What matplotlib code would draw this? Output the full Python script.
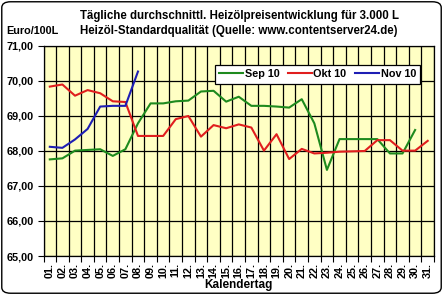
import matplotlib
matplotlib.use('Agg')
import matplotlib.pyplot as plt
import numpy as np
from matplotlib.patches import FancyBboxPatch

plt.rcParams['font.family'] = ['Liberation Sans', 'DejaVu Sans']
plt.rcParams['font.weight'] = 'bold'

# values (Euro/100L)
days = list(range(1, 32))
day_labels = ['%02d.' % d for d in days]

sep10 = [67.76, 67.79, 68.01, 68.03, 68.05, 67.86, 68.05, 68.79, 69.36, 69.36,
         69.42, 69.44, 69.70, 69.72, 69.41, 69.55, 69.29, 69.29, 69.27, 69.24,
         69.48, 68.79, 67.46, 68.34, 68.34, 68.34, 68.34, 67.93, 67.93, 68.60]
okt10 = [69.84, 69.90, 69.58, 69.74, 69.65, 69.42, 69.40, 68.43, 68.43, 68.43,
         68.91, 69.00, 68.41, 68.74, 68.65, 68.76, 68.67, 68.01, 68.48, 67.77,
         68.06, 67.93, 67.95, 67.98, 67.99, 68.00, 68.31, 68.31, 68.01, 68.01,
         68.29]
nov10 = [68.12, 68.09, 68.33, 68.63, 69.27, 69.29, 69.29, 70.27]

fig = plt.figure(figsize=(4.43, 2.95), dpi=100)
ax = fig.add_axes([0.0982, 0.1322, 0.8815, 0.7119])
ax.set_facecolor('#FFFFC4')

ax.plot(days[:len(sep10)], sep10, color='#1E8A1E', lw=1.5, label='Sep 10')
ax.plot(days[:len(okt10)], okt10, color='#E01E1E', lw=1.5, label='Okt 10')
ax.plot(days[:len(nov10)], nov10, color='#1E1EB4', lw=1.5, label='Nov 10')

ax.set_xlim(0.5, 31.5)
ax.set_ylim(65, 71)
ax.set_yticks(np.arange(65, 71.5, 1))
ax.set_yticklabels(['%d,00' % v for v in range(65, 72)], fontsize=7.8, fontweight='bold')
ax.set_xticks(days)
ax.set_xticklabels(day_labels, rotation=90, fontsize=7.8, fontweight='bold')
ax.set_xticks(np.arange(0.5, 32, 1), minor=True)
ax.tick_params(axis='x', which='major', length=0, pad=5)
ax.tick_params(axis='x', which='minor', length=4, width=0.8, direction='out')
ax.tick_params(axis='y', length=4, width=0.8, direction='out', pad=3)
ax.grid(True, which='minor', axis='x', color='black', lw=0.9)
ax.grid(True, which='major', axis='y', color='black', lw=0.9)
for s in ax.spines.values():
    s.set_linewidth(0.9)
ax.set_axisbelow(True)

ax.set_xlabel('Kalendertag', fontsize=8.5, fontweight='bold', labelpad=1)

leg = ax.legend(loc='upper right', bbox_to_anchor=(0.965, 0.91), ncol=3,
                frameon=True, fancybox=False, handlelength=2.2,
                handletextpad=0.15, columnspacing=0.8, borderpad=0.4,
                borderaxespad=0, prop={'weight': 'bold', 'size': 7.8})
leg.get_frame().set_edgecolor('black')
leg.get_frame().set_linewidth(0.9)
leg.get_frame().set_facecolor('white')
leg.get_frame().set_alpha(1)

fig.text(0.54, 0.945, 'Tägliche durchschnittl. Heizölpreisentwicklung für 3.000 L',
         ha='center', va='center', fontsize=8.3, fontweight='bold')
fig.text(0.54, 0.896, 'Heizöl-Standardqualität (Quelle: www.contentserver24.de)',
         ha='center', va='center', fontsize=8.3, fontweight='bold')
fig.text(0.014, 0.896, 'Euro/100L', ha='left', va='center', fontsize=7.8,
         fontweight='bold')

border = FancyBboxPatch((0.004, 0.006), 0.992, 0.988, transform=fig.transFigure,
                        boxstyle='round,pad=0,rounding_size=0.02',
                        fill=False, edgecolor='black', lw=1.0)
fig.patches.append(border)

fig.savefig('out.png', dpi=100)
